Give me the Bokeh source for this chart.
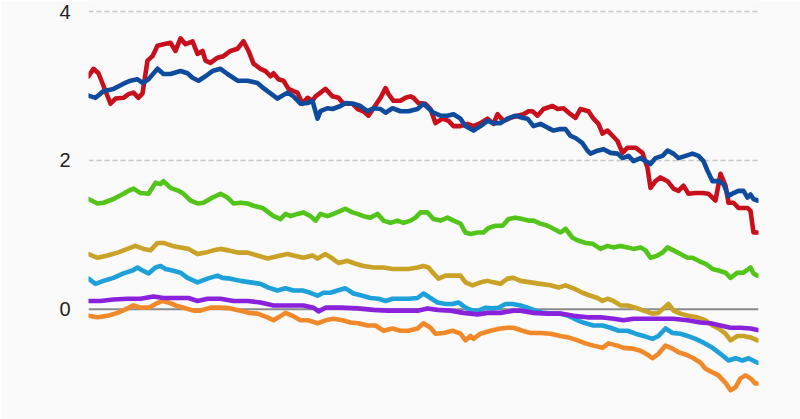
from bokeh.plotting import figure
from bokeh.models import Range1d, FixedTicker, Span
from bokeh.embed import file_html
from bokeh.resources import INLINE

# Day index and values for each series
red_x = [0,5,10,22,27,35,40,45,50,54,59,64,69,75,82,87,92,97,104,109,114,117,122,129,135,142,149,155,160,165,172,177,182,185,190,195,200,205,209,214,219,224,227,230,237,244,250,255,264,269,275,280,285,292,297,300,305,312,317,322,325,330,337,342,347,354,360,365,372,379,385,392,399,405,409,415,422,429,435,440,444,449,455,464,469,475,482,487,492,500,505,510,514,519,524,529,534,539,547,554,559,562,567,572,579,585,590,595,600,607,614,620,627,632,637,640,645,650,659,662,665,669]
red_y = [3.13,3.23,3.17,2.76,2.83,2.84,2.89,2.91,2.84,2.90,3.34,3.40,3.54,3.56,3.58,3.47,3.64,3.56,3.60,3.43,3.47,3.34,3.31,3.38,3.40,3.47,3.50,3.60,3.47,3.30,3.23,3.20,3.13,3.17,3.09,3.07,2.96,2.93,2.91,2.76,2.84,2.80,2.86,2.89,2.96,2.86,2.84,2.76,2.76,2.69,2.66,2.60,2.70,2.84,2.97,2.89,2.80,2.80,2.84,2.86,2.84,2.77,2.76,2.69,2.50,2.56,2.53,2.46,2.46,2.49,2.46,2.50,2.56,2.49,2.62,2.53,2.57,2.60,2.62,2.66,2.66,2.60,2.69,2.73,2.69,2.70,2.62,2.57,2.69,2.66,2.56,2.49,2.36,2.40,2.33,2.26,2.10,2.17,2.17,2.10,1.90,1.63,1.72,1.77,1.72,1.62,1.59,1.66,1.55,1.56,1.56,1.55,1.46,1.82,1.66,1.43,1.43,1.36,1.36,1.32,1.03,1.03]

blue_x = [0,7,15,25,35,42,49,54,60,69,75,82,92,99,104,110,117,124,132,139,149,159,169,175,180,189,199,205,212,219,224,229,232,239,244,252,257,265,272,279,285,292,297,304,312,320,329,335,340,345,352,359,365,372,377,385,392,399,405,412,419,427,435,439,445,452,459,465,472,477,482,487,494,499,502,509,515,522,529,534,540,545,552,557,562,567,574,579,585,590,597,604,610,615,619,624,630,635,640,645,650,655,659,662,665,669]
blue_y = [2.87,2.84,2.93,2.96,3.03,3.07,3.09,3.04,3.09,3.23,3.16,3.16,3.20,3.17,3.11,3.07,3.13,3.20,3.23,3.16,3.07,3.07,3.04,2.97,2.92,2.83,2.91,2.86,2.76,2.77,2.80,2.56,2.66,2.70,2.69,2.73,2.77,2.76,2.73,2.66,2.70,2.69,2.64,2.70,2.66,2.66,2.69,2.76,2.70,2.64,2.60,2.60,2.62,2.56,2.46,2.40,2.46,2.53,2.50,2.50,2.56,2.60,2.57,2.56,2.46,2.49,2.44,2.40,2.42,2.42,2.33,2.30,2.23,2.13,2.09,2.13,2.15,2.10,2.09,2.03,2.06,1.99,2.03,1.99,1.95,2.03,2.06,2.13,2.09,2.03,2.06,2.09,2.06,1.99,1.86,1.72,1.72,1.68,1.52,1.56,1.59,1.59,1.50,1.54,1.48,1.46]

green_x = [0,9,15,25,35,40,45,52,60,67,72,75,82,90,95,102,109,115,124,132,139,145,152,159,165,174,180,185,192,197,202,209,215,222,227,232,239,245,252,257,264,269,275,282,289,295,302,309,315,322,327,332,339,345,352,359,365,372,377,382,389,395,400,407,414,420,427,434,440,445,452,459,465,472,477,484,490,497,504,512,519,525,532,539,545,552,557,562,569,574,579,585,592,599,604,610,617,624,630,637,642,649,655,662,665,669]
green_y = [1.48,1.42,1.43,1.48,1.55,1.59,1.62,1.56,1.55,1.70,1.68,1.72,1.63,1.59,1.55,1.46,1.42,1.43,1.50,1.55,1.50,1.42,1.43,1.42,1.39,1.36,1.30,1.25,1.21,1.28,1.25,1.28,1.30,1.25,1.19,1.28,1.25,1.28,1.32,1.35,1.30,1.28,1.25,1.23,1.28,1.19,1.16,1.19,1.16,1.19,1.23,1.30,1.30,1.21,1.19,1.23,1.19,1.15,1.03,1.01,1.03,1.03,1.09,1.12,1.12,1.21,1.23,1.21,1.19,1.19,1.15,1.12,1.08,1.03,1.08,0.96,0.92,0.89,0.88,0.81,0.85,0.83,0.85,0.83,0.81,0.83,0.79,0.69,0.72,0.76,0.83,0.79,0.74,0.69,0.69,0.65,0.61,0.54,0.52,0.49,0.42,0.49,0.49,0.56,0.48,0.45]

gold_x = [0,9,19,29,39,47,55,62,69,75,84,92,100,109,117,125,132,140,149,159,169,179,192,199,205,215,224,229,237,244,250,259,267,275,285,295,304,312,320,329,335,340,345,350,357,365,372,377,384,392,399,405,412,419,425,432,442,452,462,470,477,485,494,502,509,514,519,525,532,539,547,555,564,570,575,580,585,592,600,609,617,624,630,637,642,649,655,662,669]
gold_y = [0.74,0.69,0.72,0.76,0.81,0.85,0.81,0.79,0.89,0.89,0.85,0.83,0.81,0.74,0.76,0.79,0.81,0.79,0.76,0.76,0.72,0.68,0.72,0.74,0.72,0.69,0.72,0.68,0.74,0.68,0.62,0.65,0.61,0.58,0.56,0.56,0.54,0.54,0.54,0.56,0.58,0.56,0.48,0.41,0.45,0.45,0.45,0.36,0.32,0.36,0.38,0.36,0.34,0.41,0.42,0.38,0.36,0.34,0.32,0.29,0.32,0.28,0.22,0.18,0.15,0.11,0.14,0.11,0.05,0.05,0.02,-0.02,-0.06,-0.05,0.01,0.07,-0.02,-0.06,-0.09,-0.11,-0.15,-0.22,-0.26,-0.33,-0.42,-0.36,-0.36,-0.38,-0.42]

lblue_x = [0,7,15,25,35,44,49,54,60,67,72,77,84,92,99,109,119,129,134,142,152,162,172,180,189,197,205,214,222,229,235,242,249,257,265,274,282,290,297,304,312,320,329,335,342,349,357,364,370,377,384,390,397,404,410,417,424,432,439,447,455,464,472,480,489,497,505,514,522,530,539,547,555,564,570,577,584,592,599,607,615,624,632,640,647,654,660,669]
lblue_y = [0.41,0.34,0.38,0.42,0.48,0.52,0.56,0.52,0.48,0.56,0.58,0.54,0.52,0.49,0.42,0.36,0.41,0.45,0.42,0.41,0.38,0.36,0.34,0.29,0.25,0.28,0.25,0.25,0.22,0.18,0.22,0.22,0.25,0.28,0.21,0.18,0.15,0.14,0.11,0.14,0.14,0.14,0.15,0.21,0.15,0.09,0.07,0.07,0.09,0.02,-0.02,-0.02,0.02,0.01,0.02,0.07,0.07,0.05,0.02,-0.02,-0.05,-0.06,-0.06,-0.09,-0.15,-0.19,-0.22,-0.22,-0.25,-0.29,-0.29,-0.33,-0.36,-0.40,-0.36,-0.26,-0.32,-0.33,-0.36,-0.40,-0.45,-0.52,-0.60,-0.69,-0.66,-0.69,-0.66,-0.72]

purple_x = [0,12,25,39,52,65,75,89,100,109,119,132,145,159,172,185,199,215,225,230,237,252,269,285,299,315,329,339,349,362,375,382,389,399,412,425,432,445,459,472,485,499,512,525,535,545,559,572,585,599,612,622,632,642,652,662,669]
purple_y = [0.11,0.11,0.13,0.14,0.14,0.17,0.15,0.15,0.15,0.11,0.14,0.14,0.11,0.11,0.09,0.05,0.05,0.05,0.02,-0.03,0.02,0.02,0.01,-0.01,-0.02,-0.02,-0.02,0.01,-0.01,-0.02,-0.05,-0.06,-0.07,-0.05,-0.05,-0.02,-0.02,-0.05,-0.06,-0.06,-0.09,-0.11,-0.11,-0.13,-0.15,-0.13,-0.13,-0.13,-0.13,-0.15,-0.18,-0.19,-0.22,-0.25,-0.25,-0.26,-0.28]

orange_x = [0,9,19,29,39,45,52,60,67,74,80,87,95,105,112,122,132,142,152,160,169,179,185,190,197,204,212,220,229,237,245,254,262,270,279,287,295,304,312,320,329,335,342,347,355,364,372,377,382,385,392,402,412,419,425,434,442,452,462,472,480,489,497,505,514,520,529,535,544,552,560,564,570,577,584,590,599,605,612,617,624,630,637,642,647,652,657,662,667,669]
orange_y = [-0.09,-0.11,-0.09,-0.05,0.01,0.05,0.02,0.02,0.07,0.11,0.09,0.05,0.02,-0.02,-0.02,0.02,0.02,0.01,-0.02,-0.05,-0.06,-0.11,-0.15,-0.11,-0.05,-0.09,-0.15,-0.15,-0.19,-0.15,-0.13,-0.15,-0.18,-0.19,-0.22,-0.22,-0.29,-0.26,-0.29,-0.29,-0.26,-0.19,-0.25,-0.33,-0.32,-0.29,-0.33,-0.42,-0.36,-0.40,-0.33,-0.29,-0.26,-0.25,-0.25,-0.29,-0.32,-0.32,-0.33,-0.36,-0.38,-0.42,-0.46,-0.49,-0.52,-0.46,-0.49,-0.52,-0.53,-0.56,-0.62,-0.66,-0.60,-0.49,-0.53,-0.58,-0.62,-0.66,-0.72,-0.80,-0.85,-0.89,-0.99,-1.09,-1.05,-0.93,-0.89,-0.93,-1.00,-1.00]

y_ticks = [0, 2, 4]
dashed_grid = [2, 4]

series = [
    (green_x, green_y, "#52c41a"),
    (gold_x, gold_y, "#c9a227"),
    (lblue_x, lblue_y, "#1ea0da"),
    (orange_x, orange_y, "#f0892a"),
    (purple_x, purple_y, "#8a22dc"),
    (red_x, red_y, "#c8101c"),
    (blue_x, blue_y, "#0f4b9c"),
]

p = figure(width=800, height=419, output_backend="svg", toolbar_location=None,
           x_range=Range1d(0, 670), y_range=Range1d(-1.483, 4.148),
           min_border_left=88, min_border_right=42, min_border_top=0, min_border_bottom=0,
           background_fill_color="#fafafa", border_fill_color="#fafafa",
           outline_line_color=None)

p.xaxis.visible = False
p.xgrid.visible = False
p.ygrid.ticker = FixedTicker(ticks=dashed_grid)
p.ygrid.grid_line_color = "#c8c8c8"
p.ygrid.grid_line_width = 1.5
p.ygrid.grid_line_dash = "5 3"

p.yaxis.ticker = FixedTicker(ticks=y_ticks)
p.yaxis.axis_line_color = None
p.yaxis.major_tick_line_color = None
p.yaxis.minor_tick_line_color = None
p.yaxis.major_label_standoff = 12
p.yaxis.major_label_text_font = "Liberation Sans"
p.yaxis.major_label_text_font_size = "20px"
p.yaxis.major_label_text_color = "#222222"

zero = Span(location=0, dimension="width", line_color="#8a8a8a", line_width=2, level="underlay")
p.add_layout(zero)

for xs, ys, col in series:
    p.line(xs, ys, line_color=col, line_width=4.6, line_join="round", line_cap="round")

open("out.html", "w").write(file_html(p, INLINE))
